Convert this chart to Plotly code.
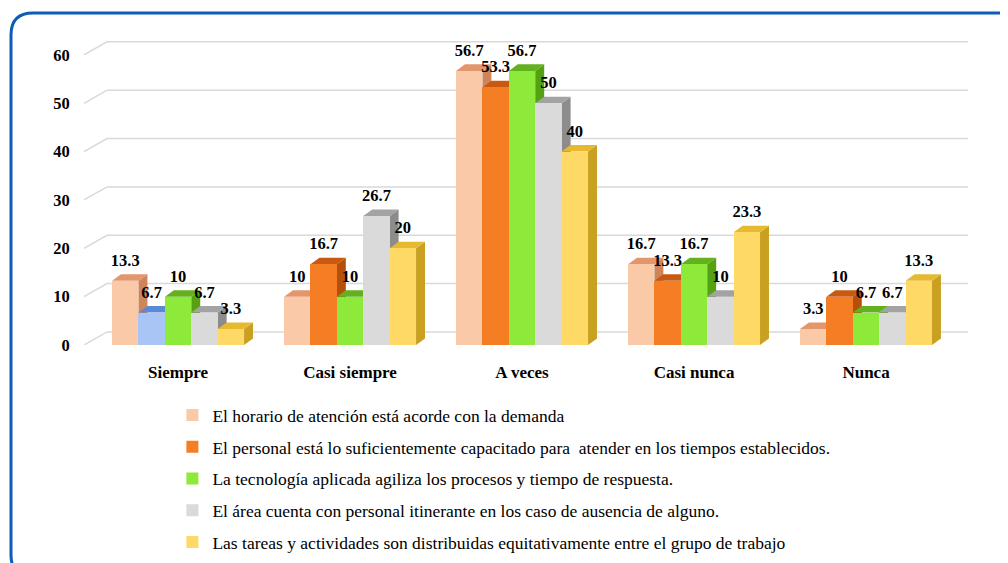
import plotly.graph_objects as go

# ---------------- data ----------------
categories = ["Siempre", "Casi siempre", "A veces", "Casi nunca", "Nunca"]
series_names = [
    "El horario de atención está acorde con la demanda",
    "El personal está lo suficientemente capacitado para  atender en los tiempos establecidos.",
    "La tecnología aplicada agiliza los procesos y tiempo de respuesta.",
    "El área cuenta con personal itinerante en los caso de ausencia de alguno.",
    "Las tareas y actividades son distribuidas equitativamente entre el grupo de trabajo",
]
s1 = [13.3, 10, 56.7, 16.7, 3.3]
s2 = [6.7, 16.7, 53.3, 13.3, 10]
s3 = [10, 10, 56.7, 16.7, 6.7]
s4 = [6.7, 26.7, 50, 10, 6.7]
s5 = [3.3, 20, 40, 23.3, 13.3]
series_values = [s1, s2, s3, s4, s5]
y_ticks = [0, 10, 20, 30, 40, 50, 60]

# ---------------- styles ----------------
front_colors = ["#F9C9A8", "#F57E25", "#8DE93A", "#DADADA", "#FFD966"]
top_colors = ["#E3966C", "#C95810", "#64B11E", "#A3A3A3", "#E6BA30"]
side_colors = ["#D0845A", "#B44F0C", "#56A014", "#8C8C8C", "#C9A020"]
# the single bar drawn in blue in the original (series 2, "Siempre")
odd_bar = (1, 0)
odd_front, odd_top, odd_side = "#A8C5F5", "#5A8AD6", "#4C7CC8"

FONT = "Liberation Serif"
W = 0.1535            # bar width (x units)
DX, DY = 0.052, 1.35  # bar depth projection
GDX, GDY = 0.134, 2.7  # back wall projection
LABEL_PAD = 0.9
XR = [-0.547, 4.593]
YR = [0, 63.5]
PAGE_OFF = 8                     # browser body margin
FW, FH = 1008 - PAGE_OFF, 563 - PAGE_OFF
L, R, T, B = 84 - PAGE_OFF, 40, 38 - PAGE_OFF, 218
PW, PH = FW - L - R, FH - T - B


def fmt(v):
    return str(int(v)) if float(v).is_integer() else f"{v:g}"


def px2paper(px, py):
    return (px - PAGE_OFF - L) / PW, (FH - B - (py - PAGE_OFF)) / PH


fig = go.Figure()
shapes = []

# back-wall gridlines
for v in y_ticks:
    x0 = XR[0]
    shapes.append(dict(
        type="path", xref="x", yref="y", layer="between",
        path=f"M {x0},{v} L {x0 + GDX},{v + GDY} L {XR[1]},{v + GDY}",
        line=dict(color="#D9D9D9", width=1.5)))

nser = len(series_values)
for j, vals in enumerate(series_values):
    offset = -nser / 2 * W + j * W
    fig.add_trace(go.Bar(
        x=list(range(len(categories))), y=vals, name=series_names[j],
        width=W, offset=offset, marker=dict(color=front_colors[j], line=dict(width=0)),
        legendgroup=f"g{j}", hoverinfo="y"))

# override bar
j_odd, i_odd = odd_bar
fig.add_trace(go.Bar(
    x=[i_odd], y=[series_values[j_odd][i_odd]], width=W,
    offset=-nser / 2 * W + j_odd * W,
    marker=dict(color=odd_front, line=dict(width=0)), showlegend=False, hoverinfo="y"))

# 3D faces (painter's order: left to right)
for i in range(len(categories)):
    for j, vals in enumerate(series_values):
        v = vals[i]
        x0 = i - nser / 2 * W + j * W
        x1 = x0 + W
        tc, sc = top_colors[j], side_colors[j]
        if (j, i) == odd_bar:
            tc, sc = odd_top, odd_side
        shapes.append(dict(
            type="path", xref="x", yref="y", layer="between",
            path=f"M {x1},0 L {x1 + DX},{DY} L {x1 + DX},{v + DY} L {x1},{v} Z",
            fillcolor=sc, line=dict(width=0)))
        shapes.append(dict(
            type="path", xref="x", yref="y", layer="between",
            path=f"M {x0},{v} L {x1},{v} L {x1 + DX},{v + DY} L {x0 + DX},{v + DY} Z",
            fillcolor=tc, line=dict(width=0)))

# value labels
lx, ly, lt = [], [], []
for j, vals in enumerate(series_values):
    for i, v in enumerate(vals):
        lx.append(i - nser / 2 * W + j * W + W / 2)
        ly.append(v + DY + LABEL_PAD)
        lt.append(fmt(v))
fig.add_trace(go.Scatter(
    x=lx, y=ly, text=lt, mode="text", textposition="top center",
    textfont=dict(family=FONT, size=16.5, color="black", weight="bold"),
    showlegend=False, hoverinfo="skip", cliponaxis=False))

# rounded border
bx0, by0 = px2paper(11, 13)
bx1, by1 = px2paper(1022, 577)
rx = 22 / PW
ry = 22 / PH
shapes.append(dict(
    type="path", xref="paper", yref="paper", layer="above",
    path=(f"M {bx0 + rx},{by1} Q {bx0},{by1} {bx0},{by1 + ry} "
          f"L {bx0},{by0 - ry} Q {bx0},{by0} {bx0 + rx},{by0} "
          f"L {bx1 - rx},{by0} Q {bx1},{by0} {bx1},{by0 - ry} L {bx1},{by1 + ry}"),
    line=dict(color="#0E5DB5", width=3)))

fig.update_layout(
    width=FW, height=FH,
    margin=dict(l=L, r=R, t=T, b=B, pad=0, autoexpand=False),
    paper_bgcolor="white", plot_bgcolor="white",
    barmode="overlay", bargap=0,
    shapes=shapes,
    font=dict(family=FONT, color="black"),
    xaxis=dict(range=XR, tickvals=list(range(len(categories))), ticktext=categories,
               showgrid=False, zeroline=False, showline=False,
               ticks="outside", ticklen=12, tickcolor="rgba(0,0,0,0)",
               tickfont=dict(family=FONT, size=17, color="black", weight="bold")),
    yaxis=dict(range=YR, tickvals=y_ticks, showgrid=False, zeroline=False, showline=False,
               ticks="outside", ticklen=10, tickcolor="rgba(0,0,0,0)",
               tickfont=dict(family=FONT, size=16.5, color="black", weight="bold")),
    legend=dict(orientation="v", x=0.10, y=-0.17, xanchor="left", yanchor="top",
                font=dict(family=FONT, size=17.5, color="black"),
                tracegroupgap=6, bgcolor="rgba(0,0,0,0)"),
    showlegend=True,
)

fig.write_html("out.html")
